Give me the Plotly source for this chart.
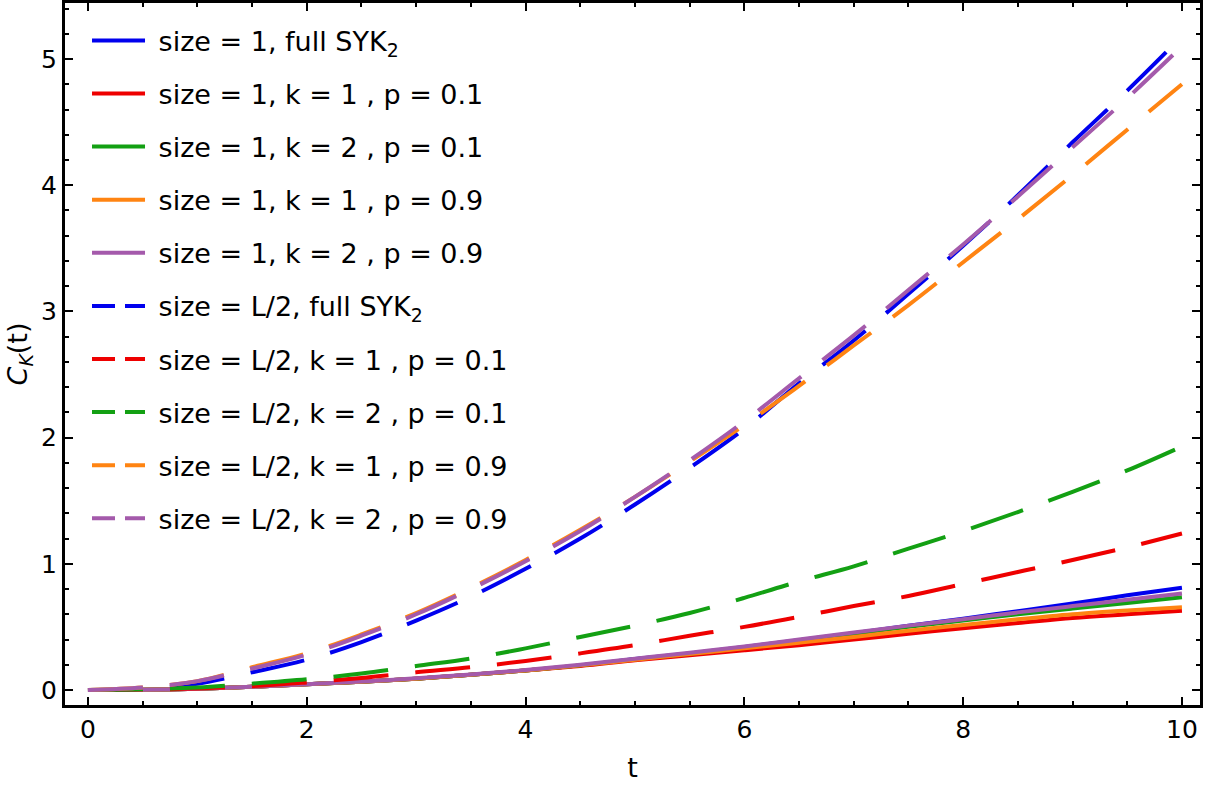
import plotly.graph_objects as go

t = [0, 0.5, 1, 1.5, 2, 2.5, 3, 3.5, 4, 4.5, 5, 5.5, 6, 6.5, 7, 7.5, 8, 8.5, 9, 9.5, 10]

# size = 1 (solid)
s1_full = [0, 0.002, 0.01, 0.025, 0.045, 0.065, 0.09, 0.12, 0.155, 0.195, 0.245, 0.29, 0.34, 0.395, 0.45, 0.51, 0.565, 0.625, 0.685, 0.75, 0.81]
s1_k1_p01 = [0, 0.002, 0.01, 0.025, 0.045, 0.065, 0.09, 0.12, 0.155, 0.19, 0.235, 0.275, 0.315, 0.355, 0.40, 0.445, 0.49, 0.53, 0.57, 0.60, 0.628]
s1_k2_p01 = [0, 0.002, 0.01, 0.025, 0.045, 0.065, 0.09, 0.12, 0.155, 0.195, 0.243, 0.288, 0.335, 0.39, 0.445, 0.50, 0.55, 0.60, 0.645, 0.69, 0.735]
s1_k1_p09 = [0, 0.002, 0.01, 0.025, 0.045, 0.065, 0.09, 0.12, 0.155, 0.195, 0.24, 0.285, 0.33, 0.375, 0.42, 0.47, 0.515, 0.56, 0.60, 0.63, 0.655]
s1_k2_p09 = [0, 0.002, 0.01, 0.025, 0.046, 0.067, 0.092, 0.123, 0.158, 0.2, 0.248, 0.295, 0.345, 0.40, 0.455, 0.51, 0.56, 0.615, 0.665, 0.715, 0.765]

# size = L/2 (dashed)
half_full = [0, 0.01, 0.05, 0.14, 0.24, 0.38, 0.55, 0.74, 0.96, 1.20, 1.47, 1.76, 2.07, 2.43, 2.77, 3.14, 3.52, 3.92, 4.34, 4.75, 5.18]
half_k1_p01 = [0, 0.003, 0.012, 0.03, 0.06, 0.095, 0.14, 0.18, 0.23, 0.29, 0.355, 0.43, 0.50, 0.58, 0.665, 0.745, 0.84, 0.935, 1.03, 1.13, 1.24]
half_k2_p01 = [0, 0.005, 0.02, 0.05, 0.085, 0.13, 0.19, 0.25, 0.33, 0.42, 0.51, 0.61, 0.73, 0.86, 0.98, 1.12, 1.26, 1.41, 1.57, 1.74, 1.93]
half_k1_p09 = [0, 0.02, 0.07, 0.18, 0.29, 0.44, 0.61, 0.81, 1.03, 1.27, 1.53, 1.81, 2.10, 2.41, 2.73, 3.05, 3.39, 3.73, 4.08, 4.44, 4.80]
half_k2_p09 = [0, 0.02, 0.07, 0.17, 0.28, 0.43, 0.60, 0.80, 1.02, 1.26, 1.53, 1.82, 2.13, 2.47, 2.81, 3.17, 3.53, 3.91, 4.30, 4.69, 5.10]

names_solid = ["size = 1, full SYK<sub>2</sub>", "size = 1, k = 1 , p = 0.1", "size = 1, k = 2 , p = 0.1",
               "size = 1, k = 1 , p = 0.9", "size = 1, k = 2 , p = 0.9"]
names_dash = ["size = L/2, full SYK<sub>2</sub>", "size = L/2, k = 1 , p = 0.1", "size = L/2, k = 2 , p = 0.1",
              "size = L/2, k = 1 , p = 0.9", "size = L/2, k = 2 , p = 0.9"]
colors = ['#0000ee', '#ee0000', '#13a013', '#ff8412', '#a45aab']

solid = [s1_full, s1_k1_p01, s1_k2_p01, s1_k1_p09, s1_k2_p09]
dashed = [half_full, half_k1_p01, half_k2_p01, half_k1_p09, half_k2_p09]

fig = go.Figure()
lw = 4
for i, y in enumerate(solid):
    fig.add_scatter(x=t, y=y, mode='lines', name=' ' + names_solid[i],
                    line=dict(color=colors[i], width=lw, shape='spline'), legendgroup=f's{i}')
for i, y in enumerate(dashed):
    fig.add_scatter(x=t, y=y, mode='lines', showlegend=False,
                    line=dict(color=colors[i], width=lw, shape='spline', dash='55px,27px'))
    # legend-only proxy with a shorter dash so the key shows two dashes
    fig.add_scatter(x=[None], y=[None], mode='lines', name=' ' + names_dash[i], legendgroup=f'd{i}',
                    line=dict(color=colors[i], width=lw, dash='23px,10px'))

font = "DejaVu Sans"
axis_common = dict(showline=True, linewidth=3, linecolor='black', mirror='allticks',
                   ticks='inside', ticklen=8, tickwidth=2, tickcolor='black', automargin=False,
                   showgrid=False, zeroline=False, tickfont=dict(family=font, size=25, color='black'))
fig.update_xaxes(range=[-0.21, 10.165], dtick=2, tick0=0,
                 minor=dict(ticks='inside', dtick=0.5, ticklen=4, tickwidth=1.5, tickcolor='black'),
                 title=dict(text='t', font=dict(family=font, size=27, color='black'), standoff=16),
                 **axis_common)
fig.update_yaxes(range=[-0.119, 5.444], dtick=1, tick0=0,
                 minor=dict(ticks='inside', dtick=0.2, ticklen=4, tickwidth=1.5, tickcolor='black'),
                 title=dict(text='<i>C</i><sub><i>K</i></sub>(t)', font=dict(family=font, size=27, color='black'), standoff=6),
                 **axis_common)

fig.update_layout(
    width=1205, height=785,
    margin=dict(l=65, r=5, t=3, b=80),
    plot_bgcolor='white', paper_bgcolor='white',
    font=dict(family=font, color='black'),
    legend=dict(x=0.0194, y=0.981, xanchor='left', yanchor='top', bgcolor='rgba(0,0,0,0)',
                font=dict(family=font, size=27, color='black'), tracegroupgap=15,
                itemwidth=53),
)

# drop the page's default 8px body margin so the figure sits at the window origin
fig.write_html("out.html", config={'displayModeBar': False},
               post_script="document.body.style.margin='0';")
